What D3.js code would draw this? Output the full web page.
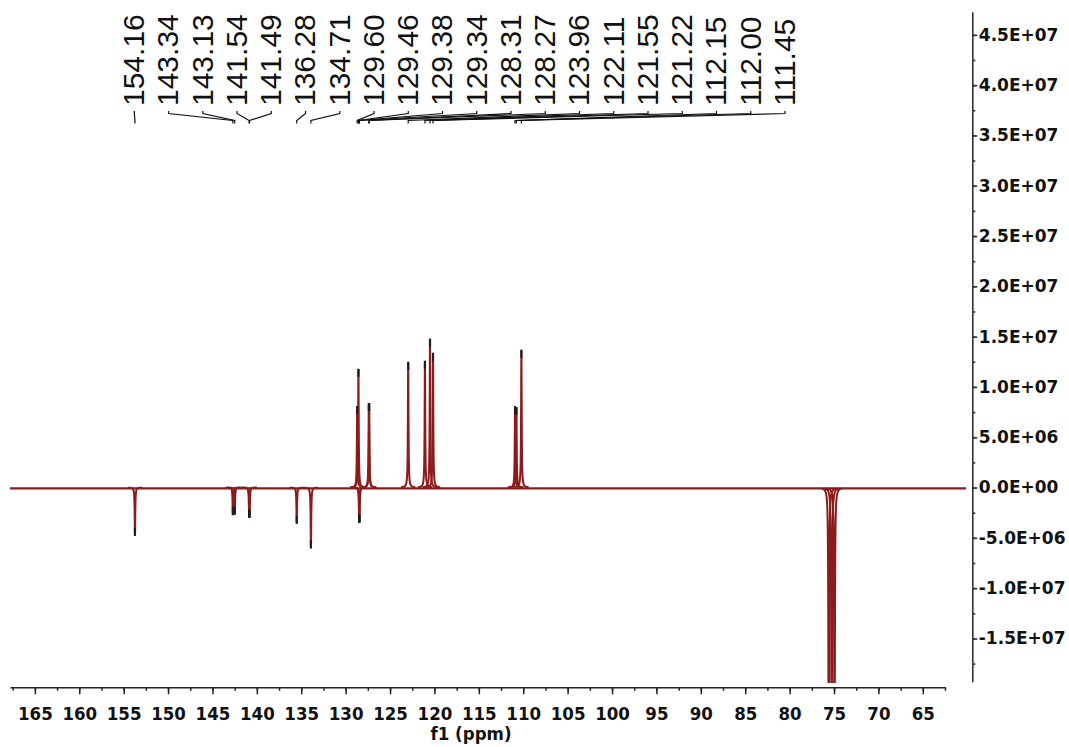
<!DOCTYPE html>
<html>
<head>
<meta charset="utf-8">
<script src="https://cdn.jsdelivr.net/npm/d3@7"></script>
<style>
  html, body { margin: 0; padding: 0; background: #ffffff; }
  svg { display: block; }
  .tick-label { font-family: "DejaVu Sans Condensed", "DejaVu Sans", sans-serif; font-stretch: condensed; font-weight: bold; fill: #111; }
  .y-label { font-family: "DejaVu Sans", sans-serif; font-weight: bold; fill: #111; }
  .peak-label { font-family: "Liberation Sans", Arial, sans-serif; fill: #111; }
</style>
</head>
<body>
<svg id="chart" width="1069" height="747"></svg>
<script>
// 13C APT spectrum: picked peaks (ppm) and their signed intensities
const peakShifts = [154.16, 143.34, 143.13, 141.54, 141.49, 136.28, 134.71,
                    129.60, 129.46, 129.38, 129.34, 128.31, 128.27, 123.96,
                    122.11, 121.55, 121.22, 112.15, 112.00, 111.45];
const peakIntensities = [-4.7e6, -2.65e6, -2.6e6, -2.9e6, -2.9e6, -3.5e6, -5.95e6,
                         8.0e6, 1.17e7, -3.4e6, -3.4e6, 8.3e6, 8.3e6, 1.24e7,
                         1.25e7, 1.47e7, 1.33e7, 8.0e6, 7.9e6, 1.36e7];
// CDCl3 solvent triplet (not picked)
const solventShifts = [77.48, 77.16, 76.84];
const solventIntensities = [-3.5e7, -3.5e7, -3.5e7];

// axis ticks
const xTickValues = [165, 160, 155, 150, 145, 140, 135, 130, 125, 120, 115, 110,
                     105, 100, 95, 90, 85, 80, 75, 70, 65];
const yTickValues = [-1.5e7, -1.0e7, -5.0e6, 0, 5.0e6, 1.0e7, 1.5e7, 2.0e7,
                     2.5e7, 3.0e7, 3.5e7, 4.0e7, 4.5e7];

const svg = d3.select("#chart");
const lineColor = "#8c1c1c";
const halfWidth = 0.04; // Lorentzian half width, ppm

// ruler scale for the ppm axis, trace scale for the spectrum
const xRuler = d3.scaleLinear().domain([167.8, 62.5]).range([10, 945]);
const x = d3.scaleLinear().domain([167.97, 62.31]).range([10, 966]);
const y = d3.scaleLinear().domain([-1.93e7, 4.73e7]).range([681.7, 11.7]);

// clip the trace to the plotting area
svg.append("defs").append("clipPath").attr("id", "plotClip")
  .append("rect").attr("x", 0).attr("y", 0).attr("width", 970).attr("height", 683);

const trace = svg.append("g").attr("clip-path", "url(#plotClip)");
const line = d3.line().x(d => x(d[0])).y(d => y(d[1]));

// baseline
trace.append("path")
  .attr("d", line([[x.domain()[0], 0], [x.domain()[1], 0]]))
  .attr("fill", "none").attr("stroke", lineColor).attr("stroke-width", 2.4)
  .attr("transform", "translate(0,0.8)");

// one Lorentzian line per resonance
function lorentz(center, amp) {
  const pts = [];
  for (let p = center - 0.8; p <= center + 0.8 + 1e-9; p += 0.004) {
    const d = (p - center) / halfWidth;
    pts.push([p, amp / (1 + d * d)]);
  }
  return pts;
}
const allShifts = peakShifts.concat(solventShifts);
const allIntens = peakIntensities.concat(solventIntensities);
allShifts.forEach((s, i) => {
  trace.append("path")
    .attr("d", line(lorentz(s, allIntens[i])))
    .attr("fill", "none").attr("stroke", lineColor).attr("stroke-width", 2)
    .attr("stroke-linejoin", "round");
});

// dark markers at picked peak tips
peakShifts.forEach((s, i) => {
  const v = peakIntensities[i];
  const yt = y(v);
  const dir = v > 0 ? 1 : -1;
  trace.append("line")
    .attr("x1", x(s)).attr("x2", x(s))
    .attr("y1", yt - dir * 1).attr("y2", yt + dir * 7)
    .attr("stroke", "#1e1e1e").attr("stroke-width", 2.2);
});

// x axis (ppm)
const xMinor = d3.range(167.5, 62.4, -2.5);
svg.append("g").attr("transform", "translate(0,687.3)")
  .call(d3.axisBottom(xRuler).tickValues(xMinor).tickSizeInner(3.5).tickSizeOuter(0).tickFormat(""))
  .call(g => g.selectAll("line,path").attr("stroke", "#222").attr("stroke-width", 1.5));
const xAxisG = svg.append("g").attr("transform", "translate(0,687.3)")
  .call(d3.axisBottom(xRuler).tickValues(xTickValues).tickSizeInner(7).tickSizeOuter(0).tickPadding(13).tickFormat(d3.format("d")));
xAxisG.select(".domain").remove();
xAxisG.selectAll("line").attr("stroke", "#222").attr("stroke-width", 1.5);
xAxisG.selectAll("text").attr("class", "tick-label").style("font-size", "18.5px").attr("fill", "#111");

svg.append("text").attr("class", "tick-label")
  .attr("x", 471).attr("y", 740).attr("text-anchor", "middle")
  .style("font-size", "18.5px").text("f1 (ppm)");

// y axis (intensity) on the right
function sci(v) {
  if (v === 0) return "0.0E+00";
  const e = Math.floor(Math.log10(Math.abs(v)) + 1e-9);
  const m = v / Math.pow(10, e);
  return m.toFixed(1) + "E" + (e < 0 ? "-" : "+") + String(Math.abs(e)).padStart(2, "0");
}
const yMinor = d3.range(-1.75e7, 4.7e7, 2.5e6);
svg.append("g").attr("transform", "translate(972.3,0)")
  .call(d3.axisRight(y).tickValues(yMinor).tickSizeInner(3).tickSizeOuter(0).tickFormat(""))
  .call(g => g.selectAll("line,path").attr("stroke", "#333").attr("stroke-width", 1.6));
const yAxisG = svg.append("g").attr("transform", "translate(972.3,0)")
  .call(d3.axisRight(y).tickValues(yTickValues).tickSizeInner(5).tickSizeOuter(0).tickPadding(1.5).tickFormat(sci));
yAxisG.select(".domain").remove();
yAxisG.selectAll("line").attr("stroke", "#333").attr("stroke-width", 1.6);
yAxisG.selectAll("text").attr("class", "y-label").style("font-size", "17px").attr("fill", "#111");

// peak labels, spread evenly above the spectrum
const labelX = d3.scaleLinear().domain([0, peakShifts.length - 1]).range([133.3, 784]);
const labels = svg.append("g");
peakShifts.forEach((s, i) => {
  const lx = labelX(i);
  labels.append("text").attr("class", "peak-label")
    .attr("transform", `translate(${lx},106) rotate(-90)`)
    .attr("dy", "0.36em").style("font-size", "30px")
    .text(s.toFixed(2));
  const px = x(s);
  labels.append("path")
    .attr("d", d3.line()([[lx + 1, 111], [lx + 1, 113.5], [px, 120.5], [px, 123.5]]))
    .attr("fill", "none").attr("stroke", "#111").attr("stroke-width", 1.2);
});
</script>
</body>
</html>
